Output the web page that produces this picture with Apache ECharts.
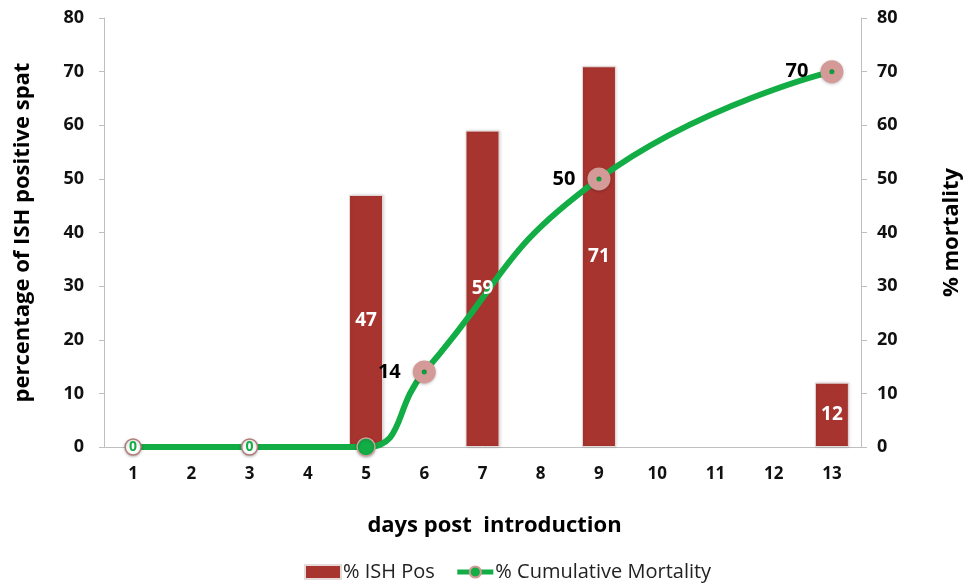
<!DOCTYPE html>
<html>
<head>
<meta charset="utf-8">
<script src="https://cdn.jsdelivr.net/npm/echarts@6/dist/echarts.min.js"></script>
<style>
  html, body { margin: 0; padding: 0; background: #ffffff; }
  #chart { width: 971px; height: 587px; }
</style>
</head>
<body>
<div id="chart"></div>
<script>
// Days after introduction
const days = ['1', '2', '3', '4', '5', '6', '7', '8', '9', '10', '11', '12', '13'];
// Percentage of ISH-positive spat per day (null = not sampled)
const ishPos = [null, null, null, null, 47, null, 59, null, 71, null, null, null, 12];
// Cumulative mortality (%) per day (null = not recorded)
const mortality = [0, null, 0, null, 0, 14, null, null, 50, null, null, null, 70];
// Shared tick values for both value axes
const yMin = 0, yMax = 80, yStep = 10;

const FONT = '"Open Sans", sans-serif';
const GREEN = '#12ad45';
const RED = '#a8342f';
const PINK = '#d39a98';

// Per-point marker styles for the mortality line
const mortalityData = mortality.map(function (v, i) {
  if (v === null) return null;
  if (v === 0 && i < 4) {
    // zero points before onset: hollow marker with a green label
    return {
      value: v,
      symbolSize: 16,
      itemStyle: { color: '#ffffff', borderColor: '#b07d7a', borderWidth: 1.5 },
      label: { show: true, position: 'inside', color: GREEN, fontSize: 14, fontWeight: 'bold', fontFamily: FONT, formatter: '{c}' }
    };
  }
  if (v === 0) {
    return {
      value: v,
      symbolSize: 18,
      itemStyle: { color: GREEN, borderColor: '#c8a29d', borderWidth: 1.5 },
      label: { show: false }
    };
  }
  return { value: v };
});

const barLabel = {
  show: true,
  position: 'inside',
  color: '#ffffff',
  fontSize: 19,
  fontWeight: 'bold',
  fontFamily: FONT
};

const titleStyle = { fontSize: 22, fontWeight: 'bold', color: '#000', fontFamily: FONT };

const chart = echarts.init(document.getElementById('chart'));
chart.setOption({
  animation: false,
  textStyle: { fontFamily: FONT },
  grid: { left: 104, right: 103, top: 18, bottom: 140, containLabel: false },
  legend: {
    bottom: 0,
    left: 299,
    itemGap: 20,
    itemWidth: 36,
    itemHeight: 14,
    textStyle: { fontSize: 20, color: '#222', fontFamily: FONT, padding: [0, 0, 0, -3] },
    lineStyle: { width: 5 },
    data: [
      { name: '% ISH Pos', icon: 'rect' },
      { name: '% Cumulative Mortality' }
    ]
  },
  xAxis: {
    type: 'category',
    data: days,
    name: 'days post  introduction',
    nameLocation: 'middle',
    nameGap: 68,
    nameTextStyle: Object.assign({}, titleStyle, { padding: [0, 0, 0, 24] }),
    axisLine: { lineStyle: { color: '#bfbfbf', width: 1 } },
    axisTick: { show: false },
    axisLabel: { fontSize: 17, fontWeight: 'bold', color: '#111', margin: 19, fontFamily: FONT }
  },
  yAxis: [
    {
      type: 'value',
      min: yMin, max: yMax, interval: yStep,
      name: 'percentage of ISH positive spat',
      nameLocation: 'middle',
      nameGap: 70,
      nameRotate: 90,
      nameTextStyle: titleStyle,
      axisLine: { show: true, lineStyle: { color: '#bfbfbf' } },
      axisTick: { show: true, length: 5, lineStyle: { color: '#bfbfbf' } },
      splitLine: { show: false },
      axisLabel: { fontSize: 18, fontWeight: 'bold', color: '#111', margin: 20, fontFamily: FONT }
    },
    {
      type: 'value',
      min: yMin, max: yMax, interval: yStep,
      position: 'right',
      name: '% mortality',
      nameLocation: 'middle',
      nameGap: 80,
      nameRotate: 90,
      nameTextStyle: titleStyle,
      axisLine: { show: true, lineStyle: { color: '#bfbfbf' } },
      axisTick: { show: true, length: 6, lineStyle: { color: '#bfbfbf' } },
      splitLine: { show: false },
      axisLabel: { fontSize: 18, fontWeight: 'bold', color: '#111', margin: 16, fontFamily: FONT }
    }
  ],
  series: [
    {
      name: '% ISH Pos',
      type: 'bar',
      data: ishPos,
      barWidth: 34,
      itemStyle: {
        color: RED,
        borderColor: '#e6dada',
        borderWidth: 1,
        shadowColor: 'rgba(0,0,0,0.15)',
        shadowBlur: 3,
        shadowOffsetX: 1,
        shadowOffsetY: 0
      },
      label: { show: false },
      z: 1
    },
    {
      name: '% Cumulative Mortality',
      type: 'line',
      yAxisIndex: 1,
      data: mortalityData,
      connectNulls: true,
      smooth: 0.5,
      clip: true,
      symbol: 'circle',
      symbolSize: 14,
      showAllSymbol: true,
      lineStyle: { color: GREEN, width: 6 },
      itemStyle: {
        color: GREEN,
        borderColor: PINK,
        borderWidth: 9,
        shadowColor: 'rgba(0,0,0,0.25)',
        shadowBlur: 3,
        shadowOffsetY: 1
      },
      label: {
        show: true,
        position: 'left',
        distance: 12,
        color: '#000',
        fontSize: 20,
        fontWeight: 'bold',
        fontFamily: FONT
      },
      z: 3
    },
    {
      // bar value labels, drawn above the mortality line
      name: 'ishLabels',
      type: 'bar',
      data: ishPos,
      barWidth: 34,
      barGap: '-100%',
      itemStyle: { color: 'rgba(0,0,0,0)' },
      label: barLabel,
      silent: true,
      z: 5
    }
  ]
});
</script>
</body>
</html>
